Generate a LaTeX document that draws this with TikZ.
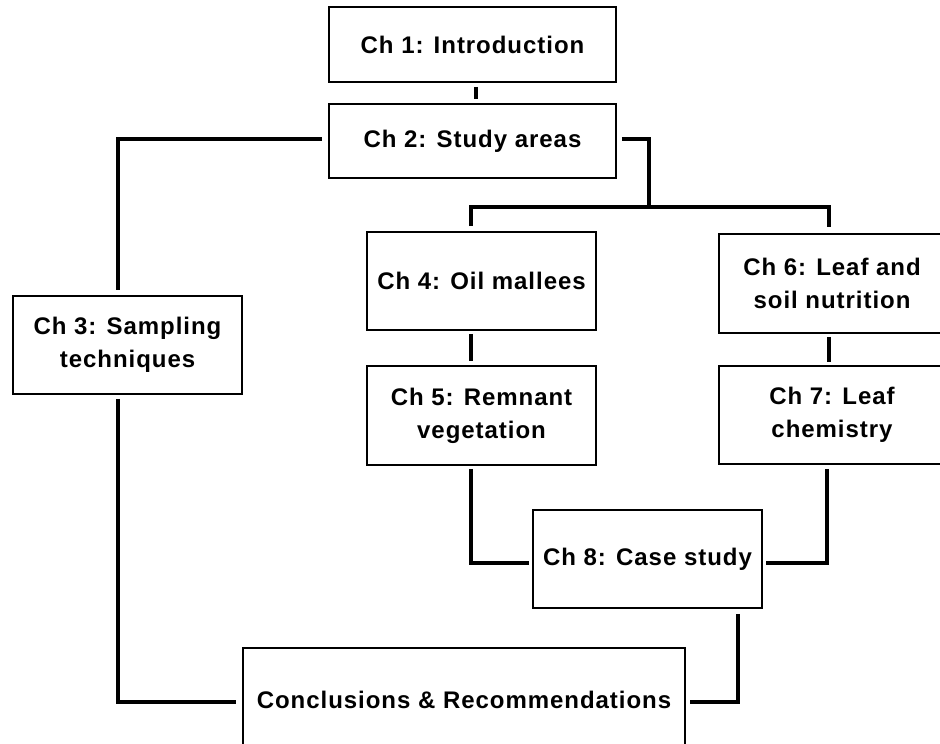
\documentclass[tikz,border=0pt]{standalone}
\usepackage{fontspec}
\setmainfont{Liberation Sans}
\newfontfamily\boxfont[LetterSpace=4]{Liberation Sans}
\begin{document}
\begin{tikzpicture}[x=1pt,y=-1pt,
  box/.style={draw=black, line width=1.6pt, rectangle, inner sep=0pt, align=center,
    font=\boxfont\bfseries\fontsize{24}{33}\selectfont, text=black},
  link/.style={draw=black, line width=3.5pt, line join=miter}]
\useasboundingbox (0,0) rectangle (940,744);
\clip (0,0) rectangle (940,744);
\fill[white] (0,0) rectangle (940,744);

\node[box, minimum width=287pt, minimum height=75pt] (c1) at (472.5,44.5) {Ch 1: Introduction};
\node[box, minimum width=287pt, minimum height=74pt] (c2) at (472.5,141) {Ch 2: Study areas};
\node[box, minimum width=229pt, minimum height=98pt] (c3) at (127.5,345) {Ch 3: Sampling\\techniques};
\node[box, minimum width=229pt, minimum height=98pt] (c4) at (481.5,281) {Ch 4: Oil mallees};
\node[box, minimum width=229pt, minimum height=99pt] (c5) at (481.5,415.5) {Ch 5: Remnant\\vegetation};
\node[box, minimum width=226pt, minimum height=99pt] (c6) at (832,283.5) {Ch 6: Leaf and\\soil nutrition};
\node[box, minimum width=226pt, minimum height=98pt] (c7) at (832,415) {Ch 7: Leaf\\chemistry};
\node[box, minimum width=229pt, minimum height=98pt] (c8) at (647.5,559) {Ch 8: Case study};
\node[box, minimum width=442pt, minimum height=104pt] (c9) at (464,700) {Conclusions \& Recommendations};

\coordinate (j) at (649,207);

% Ch1 - Ch2
\draw[link] ([xshift=3.5pt,yshift=-4pt]c1.south) -- ([xshift=3.5pt,yshift=4pt]c2.north);
% Ch2 - Ch3
\draw[link] ([xshift=-6pt,yshift=2pt]c2.west) -| ([xshift=-9.5pt,yshift=5pt]c3.north);
% Ch2 - junction
\draw[link] ([xshift=5pt,yshift=2pt]c2.east) -| (j);
\draw[link] ([xshift=-10.5pt,yshift=5pt]c4.north) |- (j) -| ([xshift=-3pt,yshift=6pt]c6.north);
% Ch4 - Ch5
\draw[link] ([xshift=-10.5pt,yshift=-3pt]c4.south) -- ([xshift=-10.5pt,yshift=4pt]c5.north);
% Ch6 - Ch7
\draw[link] ([xshift=-3pt,yshift=-3pt]c6.south) -- ([xshift=-3pt,yshift=3pt]c7.north);
% Ch5 - Ch8
\draw[link] ([xshift=-10.5pt,yshift=-3pt]c5.south) |- ([xshift=-3pt,yshift=-4pt]c8.west);
% Ch7 - Ch8
\draw[link] ([xshift=-5pt,yshift=-4pt]c7.south) |- ([xshift=3pt,yshift=-4pt]c8.east);
% Ch8 - Conclusions
\draw[link] ([xshift=90.5pt,yshift=-5pt]c8.south) |- ([xshift=4pt,yshift=-2pt]c9.east);
% Ch3 - Conclusions
\draw[link] ([xshift=-9.5pt,yshift=-4pt]c3.south) |- ([xshift=-6pt,yshift=-2pt]c9.west);
\end{tikzpicture}
\end{document}
